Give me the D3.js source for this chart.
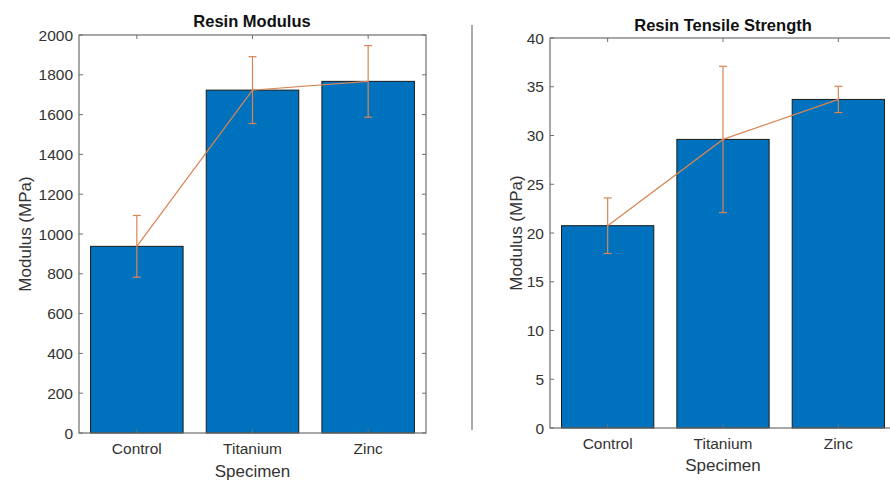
<!DOCTYPE html>
<html>
<head>
<meta charset="utf-8">
<script src="https://cdn.jsdelivr.net/npm/d3@7"></script>
<style>
  body { margin: 0; background: #fff; }
  svg { display: block; font-family: "Liberation Sans", Arial, sans-serif; }
</style>
</head>
<body>
<svg id="chart" width="890" height="482"></svg>
<script>
// data
let specimens = ['Control', 'Titanium', 'Zinc'];
let modulusMean = [938, 1723, 1767];
let modulusErr = [155, 168, 180];
let modulusTicks = [0, 200, 400, 600, 800, 1000, 1200, 1400, 1600, 1800, 2000];
let strengthMean = [20.75, 29.6, 33.7];
let strengthErr = [2.85, 7.5, 1.35];
let strengthTicks = [0, 5, 10, 15, 20, 25, 30, 35, 40];

let svg = d3.select('#chart');
let barColor = '#0072bd';
let errColor = '#d98455';
let axisColor = '#6e6e6e';
let textColor = '#333';

function drawPanel(opt) {
    let g = svg.append('g');
    let x = d3.scaleLinear().domain([0.5, specimens.length + 0.5]).range([opt.left, opt.right]);
    let y = d3.scaleLinear().domain([0, opt.ymax]).range([opt.bottom, opt.top]);

    // bars
    g.append('g').selectAll('rect').data(opt.mean).enter()
        .append('rect')
        .attr('x', (d, i) => x(i + 1 - 0.4))
        .attr('width', (d, i) => x(i + 1.4) - x(i + 0.6))
        .attr('y', d => y(d))
        .attr('height', d => y(0) - y(d))
        .attr('fill', barColor)
        .attr('stroke', '#1a1a1a')
        .attr('stroke-width', 1);

    // line through means
    let line = d3.line()
        .x((d, i) => x(i + 1))
        .y(d => y(d));
    g.append('path')
        .attr('d', line(opt.mean))
        .attr('fill', 'none')
        .attr('stroke', errColor)
        .attr('stroke-width', 1.2);

    // error bars
    let eb = g.append('g').selectAll('g').data(opt.mean).enter().append('g')
        .attr('stroke', errColor)
        .attr('stroke-width', 1.2);
    eb.append('line')
        .attr('x1', (d, i) => x(i + 1)).attr('x2', (d, i) => x(i + 1))
        .attr('y1', (d, i) => y(d + opt.err[i])).attr('y2', (d, i) => y(d - opt.err[i]));
    eb.append('line')
        .attr('x1', (d, i) => x(i + 1) - 4).attr('x2', (d, i) => x(i + 1) + 4)
        .attr('y1', (d, i) => y(d + opt.err[i])).attr('y2', (d, i) => y(d + opt.err[i]));
    eb.append('line')
        .attr('x1', (d, i) => x(i + 1) - 4).attr('x2', (d, i) => x(i + 1) + 4)
        .attr('y1', (d, i) => y(d - opt.err[i])).attr('y2', (d, i) => y(d - opt.err[i]));

    // box with inward ticks
    g.append('rect')
        .attr('x', opt.left).attr('y', opt.top)
        .attr('width', opt.right - opt.left).attr('height', opt.bottom - opt.top)
        .attr('fill', 'none').attr('stroke', axisColor).attr('stroke-width', 1.2);

    let yTicks = g.append('g').selectAll('g').data(opt.ticks).enter().append('g');
    yTicks.append('line')
        .attr('x1', opt.left).attr('x2', opt.left + 4)
        .attr('y1', d => y(d)).attr('y2', d => y(d))
        .attr('stroke', axisColor);
    yTicks.append('line')
        .attr('x1', opt.right).attr('x2', opt.right - 4)
        .attr('y1', d => y(d)).attr('y2', d => y(d))
        .attr('stroke', axisColor);
    yTicks.append('text')
        .attr('x', opt.left - 6)
        .attr('y', d => y(d))
        .attr('dy', '0.36em')
        .attr('text-anchor', 'end')
        .attr('font-size', 15.5)
        .attr('fill', textColor)
        .text(d => d);

    let xTicks = g.append('g').selectAll('g').data(specimens).enter().append('g');
    xTicks.append('line')
        .attr('x1', (d, i) => x(i + 1)).attr('x2', (d, i) => x(i + 1))
        .attr('y1', opt.bottom).attr('y2', opt.bottom - 4)
        .attr('stroke', axisColor);
    xTicks.append('line')
        .attr('x1', (d, i) => x(i + 1)).attr('x2', (d, i) => x(i + 1))
        .attr('y1', opt.top).attr('y2', opt.top + 4)
        .attr('stroke', axisColor);
    xTicks.append('text')
        .attr('x', (d, i) => x(i + 1))
        .attr('y', opt.bottom + 21)
        .attr('text-anchor', 'middle')
        .attr('font-size', 15.5)
        .attr('fill', textColor)
        .text(d => d);

    // labels
    g.append('text')
        .attr('x', opt.titleX)
        .attr('y', opt.top - opt.titleGap)
        .attr('text-anchor', 'middle')
        .attr('font-size', 16.5)
        .attr('font-weight', 'bold')
        .attr('fill', '#111')
        .text(opt.title);
    g.append('text')
        .attr('x', x(2))
        .attr('y', opt.bottom + opt.xlabelGap)
        .attr('text-anchor', 'middle')
        .attr('font-size', 17)
        .attr('fill', textColor)
        .text('Specimen');
    g.append('text')
        .attr('transform', `translate(${opt.ylabelX},${(opt.top + opt.bottom) / 2}) rotate(-90)`)
        .attr('text-anchor', 'middle')
        .attr('font-size', 17)
        .attr('fill', textColor)
        .text('Modulus (MPa)');
}

drawPanel({ left: 79, right: 426, top: 35, bottom: 433, ymax: 2000,
    mean: modulusMean, err: modulusErr, ticks: modulusTicks,
    title: 'Resin Modulus', titleX: 252, titleGap: 8, xlabelGap: 44, ylabelX: 31 });
drawPanel({ left: 550, right: 896, top: 38, bottom: 428, ymax: 40,
    mean: strengthMean, err: strengthErr, ticks: strengthTicks,
    title: 'Resin Tensile Strength', titleX: 723, titleGap: 7, xlabelGap: 43, ylabelX: 522 });

// separator between the two panels
svg.append('line')
    .attr('x1', 472).attr('x2', 472)
    .attr('y1', 25).attr('y2', 430)
    .attr('stroke', '#555').attr('stroke-width', 1);
</script>
</body>
</html>
